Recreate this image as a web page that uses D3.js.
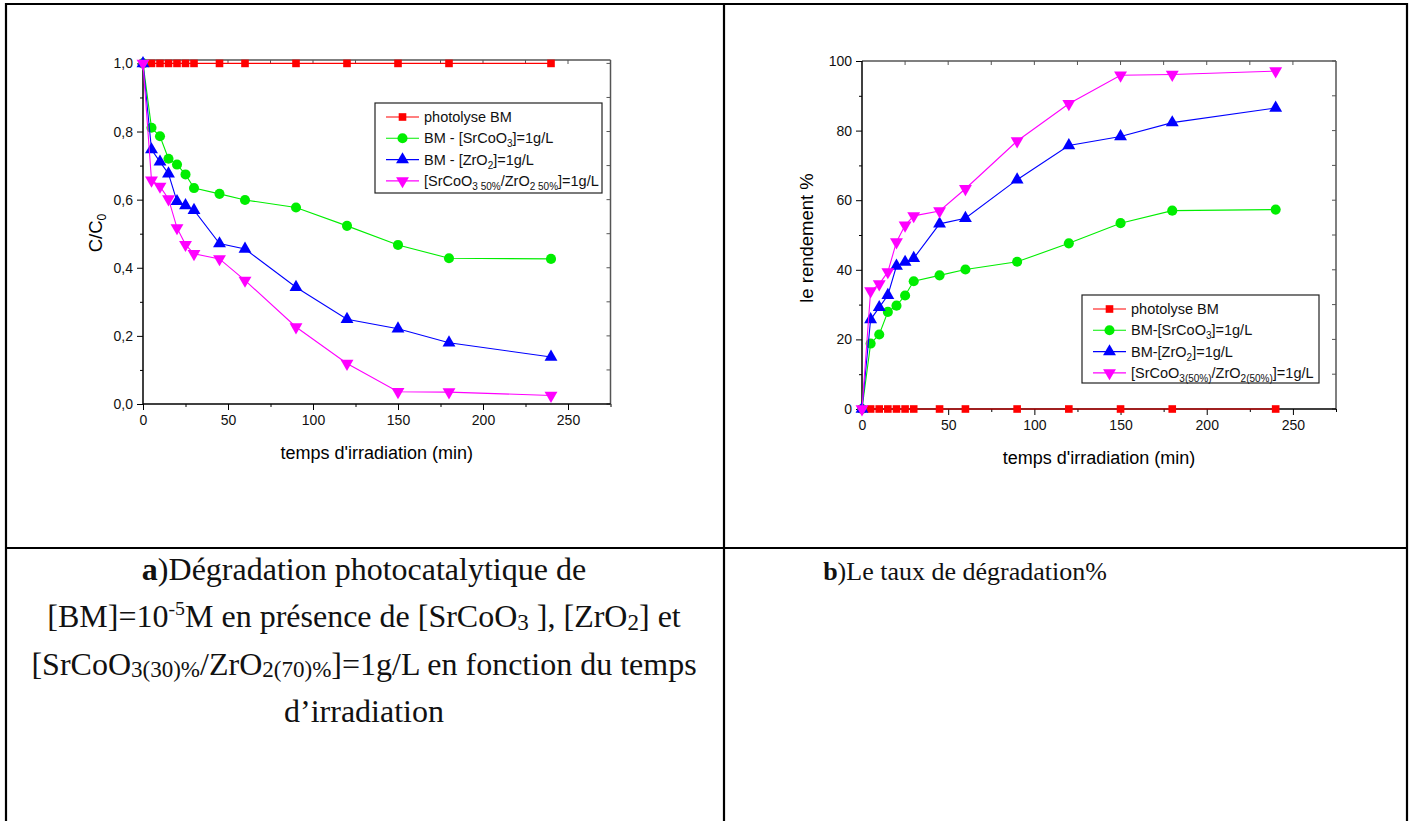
<!DOCTYPE html>
<html>
<head>
<meta charset="utf-8">
<script src="https://cdn.jsdelivr.net/npm/d3@7"></script>
<style>
  body { margin: 0; background: white; }
  svg { display: block; }
</style>
</head>
<body>
<svg id="chart" width="1411" height="821"></svg>
<script>
// irradiation times (min), shared by both panels
const TIME = [0, 5, 10, 15, 20, 25, 30, 45, 60, 90, 120, 150, 180, 240];

// panel a) C/C0
const CC0_PHOTOLYSE = [1, 1, 1, 1, 1, 1, 1, 1, 1, 1, 1, 1, 1, 1];
const CC0_SRCOO3 = [1, 0.811, 0.786, 0.72, 0.703, 0.674, 0.634, 0.617, 0.599, 0.577, 0.523, 0.467, 0.428, 0.426];
const CC0_ZRO2 = [1, 0.747, 0.711, 0.676, 0.595, 0.583, 0.569, 0.471, 0.455, 0.343, 0.249, 0.221, 0.18, 0.138];
const CC0_MIX = [1, 0.657, 0.639, 0.602, 0.517, 0.468, 0.441, 0.426, 0.363, 0.226, 0.119, 0.036, 0.035, 0.025];

// panel b) yield %
const YIELD_PHOTOLYSE = [0, 0, 0, 0, 0, 0, 0, 0, 0, 0, 0, 0, 0, 0];
const YIELD_SRCOO3 = [0, 18.8, 21.4, 27.9, 29.7, 32.6, 36.7, 38.4, 40.1, 42.3, 47.6, 53.4, 57.0, 57.3];
const YIELD_ZRO2 = [0, 25.7, 29.2, 32.7, 41.1, 42.2, 43.3, 53.2, 54.8, 65.9, 75.7, 78.3, 82.3, 86.5];
const YIELD_MIX = [0, 33.9, 35.9, 39.4, 48.0, 52.8, 55.5, 56.9, 63.3, 77.0, 87.7, 95.9, 96.1, 97.1];

const X_TICKS = [0, 50, 100, 150, 200, 250];
const CC0_TICKS = [0, 0.2, 0.4, 0.6, 0.8, 1.0];
const YIELD_TICKS = [0, 20, 40, 60, 80, 100];

// legend labels, split in parts so the chemistry can get subscripts
const LEGEND_A = [
    [{ t: "photolyse BM" }],
    [{ t: "BM - [SrCoO" }, { t: "3", sub: true }, { t: "]=1g/L" }],
    [{ t: "BM - [ZrO" }, { t: "2", sub: true }, { t: "]=1g/L" }],
    [{ t: "[SrCoO" }, { t: "3 50%", sub: true }, { t: "/ZrO" }, { t: "2 50%", sub: true }, { t: "]=1g/L" }]
];
const LEGEND_B = [
    [{ t: "photolyse BM" }],
    [{ t: "BM-[SrCoO" }, { t: "3", sub: true }, { t: "]=1g/L" }],
    [{ t: "BM-[ZrO" }, { t: "2", sub: true }, { t: "]=1g/L" }],
    [{ t: "[SrCoO" }, { t: "3(50%)", sub: true }, { t: "/ZrO" }, { t: "2(50%)", sub: true }, { t: "]=1g/L" }]
];

const COLORS = ["#ff0000", "#00ee00", "#0000ff", "#ff00ff"];
const SYMBOLS = [
    { type: d3.symbolSquare, size: 58, rot: 0 },
    { type: d3.symbolCircle, size: 80, rot: 0 },
    { type: d3.symbolTriangle, size: 72, rot: 0 },
    { type: d3.symbolTriangle, size: 72, rot: 180 }
];

const svg = d3.select("#chart");
svg.append("rect").attr("width", 1411).attr("height", 821).attr("fill", "white");

const commaFmt = d3.formatLocale({ decimal: ",", thousands: ".", grouping: [3], currency: ["", ""] }).format(".1f");

//append text parts, subscripts get pushed down
function addParts(textSel, parts, subSize) {
    let prevSub = false;
    parts.forEach(p => {
        const ts = textSel.append("tspan").text(p.t);
        if (p.sub) {
            ts.attr("dy", 4).style("font-size", subSize + "px");
        } else if (prevSub) {
            ts.attr("dy", -4);
        }
        prevSub = !!p.sub;
    });
}

function drawPanel(cfg) {
    const x = d3.scaleLinear().domain([0, 275]).range([cfg.left, cfg.right]);
    const y = d3.scaleLinear().domain(cfg.yDomain).range([cfg.bottom, cfg.top]);
    const g = svg.append("g");

    // frame: top and right in dark grey
    g.append("line").attr("x1", cfg.left).attr("x2", cfg.right).attr("y1", cfg.top).attr("y2", cfg.top)
        .attr("stroke", "#555").attr("stroke-width", 1.5);
    g.append("line").attr("x1", cfg.right).attr("x2", cfg.right).attr("y1", cfg.top).attr("y2", cfg.bottom)
        .attr("stroke", "#555").attr("stroke-width", 1.5);

    // inward ticks on top and right
    g.selectAll("line.ttick").data(d3.range(25, 275, 25)).enter().append("line")
        .attr("x1", d => x(d)).attr("x2", d => x(d)).attr("y1", cfg.top).attr("y2", cfg.top + 4)
        .attr("stroke", "#555");
    g.selectAll("line.rtick").data(cfg.minorY).enter().append("line")
        .attr("x1", cfg.right - 4).attr("x2", cfg.right).attr("y1", d => y(d)).attr("y2", d => y(d))
        .attr("stroke", "#555");

    // bottom axis
    const xAxis = d3.axisBottom(x).tickValues(X_TICKS).tickSize(6).tickSizeOuter(0).tickPadding(5);
    const gx = g.append("g").attr("transform", `translate(0,${cfg.bottom})`).call(xAxis);
    g.append("g").attr("transform", `translate(0,${cfg.bottom})`)
        .call(d3.axisBottom(x).tickValues([25, 75, 125, 175, 225, 275]).tickSize(3).tickSizeOuter(0).tickFormat(""))
        .select(".domain").remove();

    // left axis
    const yAxis = d3.axisLeft(y).tickValues(cfg.yTicks).tickFormat(cfg.yFormat).tickSize(6).tickSizeOuter(0).tickPadding(4);
    const gy = g.append("g").attr("transform", `translate(${cfg.left},0)`).call(yAxis);
    g.append("g").attr("transform", `translate(${cfg.left},0)`)
        .call(d3.axisLeft(y).tickValues(cfg.minorY.filter(v => !cfg.yTicks.includes(v))).tickSize(3).tickSizeOuter(0).tickFormat(""))
        .select(".domain").remove();

    [gx, gy].forEach(a => {
        a.selectAll("text").style("font-family", "Liberation Sans, Arial, sans-serif")
            .style("font-size", "14px").attr("fill", "#111");
        a.select(".domain").attr("stroke-width", 1.5);
    });
    gx.select(".domain").attr("d", `M${cfg.left},0H${cfg.right}`);
    gy.select(".domain").attr("d", `M0,${cfg.bottom}V${cfg.top}`);

    // axis titles
    g.append("text").attr("x", (cfg.left + cfg.right) / 2).attr("y", cfg.bottom + 55)
        .attr("text-anchor", "middle")
        .style("font-family", "Liberation Sans, Arial, sans-serif").style("font-size", "18px")
        .text("temps d'irradiation (min)");

    const yt = g.append("text")
        .attr("transform", `translate(${cfg.yTitleX},${cfg.yTitleY}) rotate(-90)`)
        .attr("text-anchor", "middle")
        .style("font-family", "Liberation Sans, Arial, sans-serif").style("font-size", "18.5px");
    addParts(yt, cfg.yTitle, 12);

    // series
    const line = d3.line().x(d => x(d[0])).y(d => y(d[1]));
    cfg.series.forEach((vals, i) => {
        const pts = TIME.map((t, k) => [t, vals[k]]);
        g.append("path").datum(pts).attr("d", line).attr("fill", "none")
            .attr("stroke", COLORS[i]).attr("stroke-width", 1.1);
        const sym = d3.symbol().type(SYMBOLS[i].type).size(SYMBOLS[i].size);
        g.selectAll(null).data(pts).enter().append("path")
            .attr("d", sym)
            .attr("transform", d => `translate(${x(d[0])},${y(d[1])}) rotate(${SYMBOLS[i].rot})`)
            .attr("fill", COLORS[i]);
    });

    // legend
    const lg = g.append("g").attr("transform", `translate(${cfg.legend.x},${cfg.legend.y})`);
    lg.append("rect").attr("width", cfg.legend.w).attr("height", cfg.legend.h)
        .attr("fill", "white").attr("stroke", "#222").attr("stroke-width", 1.2);
    cfg.legendItems.forEach((parts, i) => {
        const ry = 14 + i * 21.3;
        lg.append("line").attr("x1", 11).attr("x2", 44).attr("y1", ry).attr("y2", ry)
            .attr("stroke", COLORS[i]).attr("stroke-width", 1.1);
        const sym = d3.symbol().type(SYMBOLS[i].type).size(SYMBOLS[i].size);
        lg.append("path").attr("d", sym)
            .attr("transform", `translate(27.5,${ry}) rotate(${SYMBOLS[i].rot})`)
            .attr("fill", COLORS[i]);
        const t = lg.append("text").attr("x", 49).attr("y", ry + 5)
            .style("font-family", "Liberation Sans, Arial, sans-serif").style("font-size", "14.5px").attr("fill", "#111");
        addParts(t, parts, 10);
    });
}

drawPanel({
    left: 143, right: 610.5, top: 60, bottom: 404,
    yDomain: [0, 1.01], yTicks: CC0_TICKS, yFormat: commaFmt,
    minorY: d3.range(0, 11).map(v => v / 10),
    yTitle: [{ t: "C/C" }, { t: "0", sub: true }], yTitleX: 102, yTitleY: 233,
    series: [CC0_PHOTOLYSE, CC0_SRCOO3, CC0_ZRO2, CC0_MIX],
    legend: { x: 375, y: 103, w: 227, h: 90 },
    legendItems: LEGEND_A
});

drawPanel({
    left: 862, right: 1336, top: 61, bottom: 409,
    yDomain: [0, 100], yTicks: YIELD_TICKS, yFormat: d3.format("d"),
    minorY: d3.range(0, 101, 10),
    yTitle: [{ t: "le rendement %" }], yTitleX: 813, yTitleY: 238,
    series: [YIELD_PHOTOLYSE, YIELD_SRCOO3, YIELD_ZRO2, YIELD_MIX],
    legend: { x: 1082, y: 295, w: 237, h: 88 },
    legendItems: LEGEND_B
});

// table borders
const border = svg.append("g").attr("stroke", "black").attr("stroke-width", 2.2);
border.append("line").attr("x1", 5).attr("x2", 1408).attr("y1", 4).attr("y2", 4);
border.append("line").attr("x1", 6).attr("x2", 6).attr("y1", 3).attr("y2", 821);
border.append("line").attr("x1", 1407).attr("x2", 1407).attr("y1", 3).attr("y2", 821);
border.append("line").attr("x1", 724).attr("x2", 724).attr("y1", 3).attr("y2", 821);
border.append("line").attr("x1", 5).attr("x2", 1408).attr("y1", 548).attr("y2", 548);

// captions
const CAPTION_A = [
    [{ t: "a", b: true }, { t: ")Dégradation photocatalytique de" }],
    [{ t: "[BM]=10" }, { t: "-5", sup: true }, { t: "M en présence de [SrCoO" }, { t: "3", sm: true }, { t: " ], [ZrO" }, { t: "2", sm: true }, { t: "] et" }],
    [{ t: "[SrCoO" }, { t: "3(30)%", sm: true }, { t: "/ZrO" }, { t: "2(70)%", sm: true }, { t: "]=1g/L en fonction du temps" }],
    [{ t: "d’irradiation" }]
];
const CAPTION_B = [
    [{ t: "b", b: true }, { t: ")Le taux de dégradation%" }]
];

function drawCaption(lines, cx, y0, size) {
    lines.forEach((parts, i) => {
        const t = svg.append("text").attr("x", cx).attr("y", y0 + i * 47.3)
            .attr("text-anchor", "middle")
            .style("font-family", "Liberation Serif, Times New Roman, serif")
            .style("font-size", size + "px").attr("fill", "#111");
        let shift = 0;
        parts.forEach(p => {
            const ts = t.append("tspan").text(p.t);
            if (p.b) ts.style("font-weight", "bold");
            let target = 0;
            if (p.sup) { ts.style("font-size", (size * 0.62) + "px"); target = -size * 0.4; }
            if (p.sm) { ts.style("font-size", (size * 0.72) + "px"); target = size * 0.08; }
            if (target !== shift) { ts.attr("dy", target - shift); shift = target; }
        });
    });
}
drawCaption(CAPTION_A, 364, 580, 32);
drawCaption(CAPTION_B, 965, 580, 26);
</script>
</body>
</html>
